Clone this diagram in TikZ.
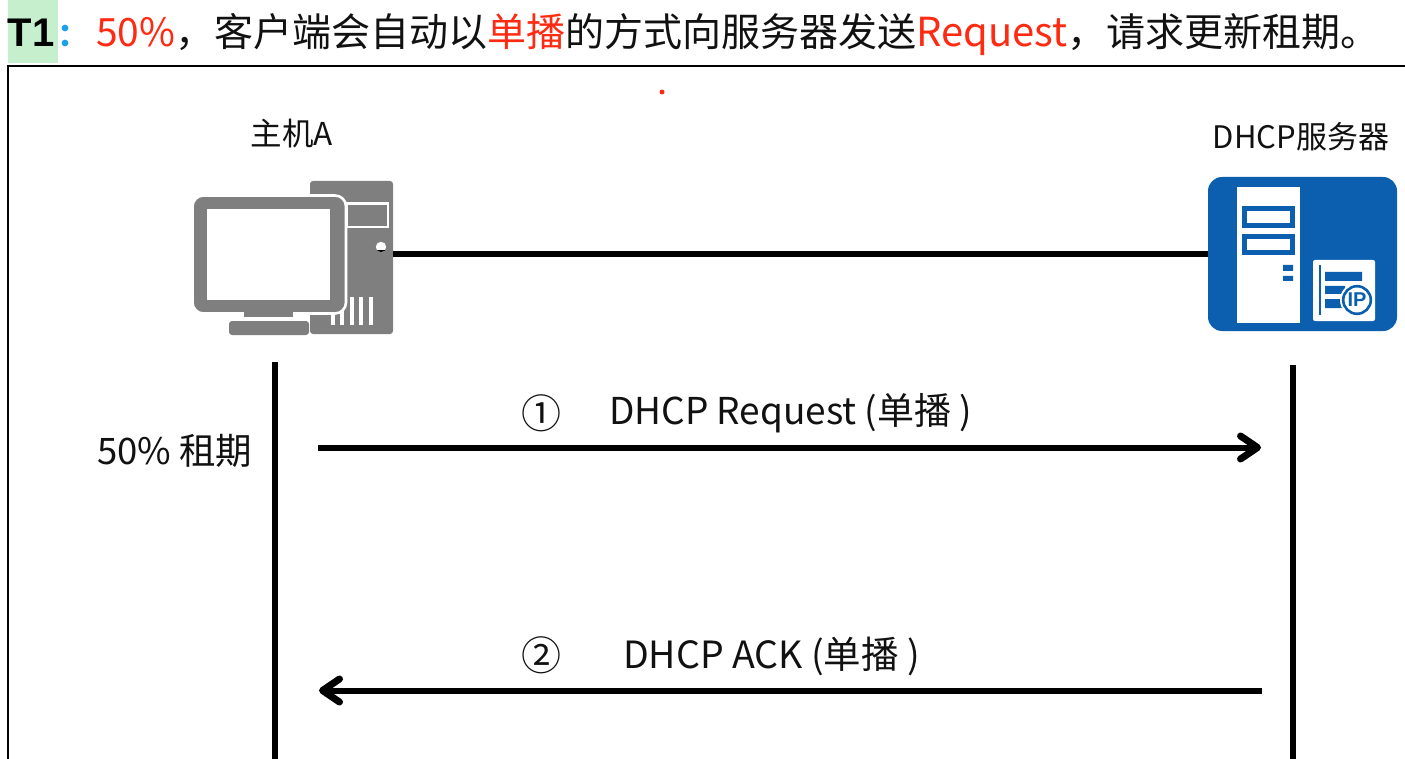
\documentclass[tikz,border=0pt]{standalone}
\usepackage{fontspec}
\setmainfont{Noto Sans CJK SC}
\newfontfamily\arialish{Liberation Sans}
\usetikzlibrary{arrows.meta}
\definecolor{pcgray}{HTML}{7F7F7F}
\definecolor{srvblue}{HTML}{0B5FAE}
\definecolor{hl}{HTML}{C6EFCE}
\definecolor{colon}{HTML}{1BA1E8}
\definecolor{redtxt}{HTML}{FF2A12}
\definecolor{ink}{HTML}{111111}
\newcommand{\fsz}[1]{\fontsize{#1}{#1}\selectfont}
\tikzset{
  x=1pt,y=-1pt,
  txt/.style={inner sep=0pt,outer sep=0pt,text=ink},
  wire/.style={line width=6pt,black},
  msg/.style={line width=6pt,black,-{Straight Barb[length=17pt,width=23pt,line width=7pt,round]}},
}
\begin{document}
\begin{tikzpicture}
\useasboundingbox (0,0) rectangle (1405,759);
% heading
\fill[hl] (8,0) rectangle (58,63);
\node[txt,anchor=base west,font=\arialish\bfseries\fsz{40},text=black] (title) at (8,47) {T1};
\node[txt,anchor=base west,font=\fsz{39}] (heading) at (96,47)
  {\textcolor{redtxt}{50\%}，客户端会自动以\textcolor{redtxt}{单播}的方式向服务器发送\textcolor{redtxt}{\fontsize{40}{40}\selectfont Request}，请求更新租期。};
\fill[colon] (65,28) circle (3.4) (65,43) circle (3.4);
% frame
\draw[line width=2.2pt,black] (1405,66) -- (8,66) -- (8,759);
\fill[redtxt] (662,92) circle (2.5);
% PC icon
\node[inner sep=0pt,outer sep=0pt,minimum width=83pt,minimum height=153pt,
      fill=pcgray,rounded corners=3pt] (pc) at (351.5,257.5) {};
\draw[white,line width=2.2pt,fill=pcgray] (347,203.5) rectangle (388,227);
\fill[white] (381,247) circle (5.2);
\begin{scope}
  \clip (381,247) circle (5.2);
  \fill[black] (375,250.5) rectangle (387,253);
\end{scope}
\foreach \vx in {333,342,352,361,371}
  \fill[white] (\vx-1.6,297) rectangle (\vx+1.6,325);
\draw[white,line width=2.6pt,fill=pcgray,rounded corners=11pt] (192.5,195.5) rectangle (346,313.5);
\fill[white] (207,209) rectangle (330,300);
\fill[pcgray] (244,312) rectangle (293,317);
\fill[pcgray,rounded corners=3pt] (229,335) -- (229,321) -- (309,321) -- (309,335) -- cycle;
% server icon
\node[inner sep=0pt,outer sep=0pt,minimum width=189pt,minimum height=154pt,
      fill=srvblue,rounded corners=14pt] (server) at (1302.5,254) {};
\fill[white] (1237,187) rectangle (1300,323);
\draw[srvblue,line width=5pt] (1244.5,208.5) rectangle (1292.5,225.5);
\draw[srvblue,line width=5pt] (1244.5,236.5) rectangle (1292.5,252.5);
\fill[srvblue] (1283,265) rectangle (1293,271) (1283,276) rectangle (1293,281);
\fill[white,rounded corners=2pt] (1313,260) rectangle (1375,321);
\draw[srvblue,line width=2pt] (1320,265) -- (1320,315);
\fill[srvblue] (1325,272) rectangle (1362,281) (1325,286) rectangle (1345,294) (1325,299) rectangle (1345,308);
\draw[white,line width=2pt,fill=white] (1357,300) circle (16);
\draw[srvblue,line width=2.6pt,fill=white] (1357,300) circle (13.8);
\node[inner sep=0pt,text=srvblue,font=\arialish\bfseries\fsz{20}] (iptext) at (1357,300) {IP};
% labels
\node[txt,font=\fsz{31.5}] (hostlabel) at (292,134) {主机A};
\node[txt,font=\fsz{31}] (srvlabel) at (1301,137) {DHCP服务器};
\node[txt,anchor=west,font=\fsz{36.5}] (lease) at (97,451) {50\% 租期};
\node[txt,font=\fsz{40}] (n1) at (541,413) {①};
\node[txt,font=\fsz{40}] (n2) at (541,655) {②};
\node[txt,anchor=west,font=\fsz{37}] (m1) at (609,413) {DHCP Request (单播 )};
\node[txt,anchor=west,font=\fsz{37.5}] (m2) at (623,656) {DHCP ACK (单播 )};
% connectors
\draw[wire] (pc.east |- 0,254.5) -- (server.west |- 0,254.5);
\coordinate (aTop) at (275,362); \coordinate (aBot) at (275,759);
\coordinate (bTop) at (1293,365); \coordinate (bBot) at (1293,759);
\draw[wire] (aTop) -- (aBot);
\draw[wire] (bTop) -- (bBot);
\coordinate (r1s) at (318,447.5); \coordinate (r1e) at (1261,447.5);
\coordinate (r2s) at (1262,690.5); \coordinate (r2e) at (319,690.5);
\draw[msg] (r1s) -- (r1e);
\draw[msg] (r2s) -- (r2e);
\end{tikzpicture}
\end{document}
